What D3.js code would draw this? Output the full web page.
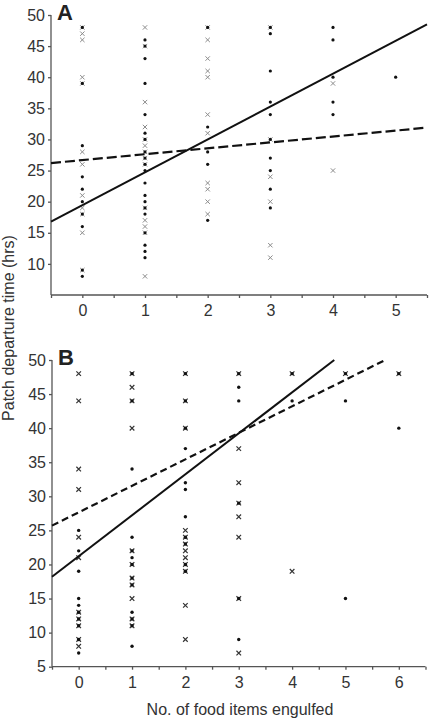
<!DOCTYPE html>
<html>
<head>
<meta charset="utf-8">
<script src="https://cdn.jsdelivr.net/npm/d3@7"></script>
<style>
body{margin:0;background:#fff;}
svg{display:block;font-family:"Liberation Sans",Arial,Helvetica,sans-serif;}
.axis path,.axis line{stroke:#555;stroke-width:1.3;}
.axis text{fill:#333;font-size:16px;font-family:"Liberation Sans",Arial,sans-serif;}
</style>
</head>
<body>
<div id="chart"></div>
<script>
// tick labels
var xTicksA=[0,1,2,3,4,5];
var xTicksB=[0,1,2,3,4,5,6];
var yTicksA=[10,15,20,25,30,35,40,45,50];
var yTicksB=[5,10,15,20,25,30,35,40,45,50];

// panel A : filled dots [food items, hours]
var dotsA=[
 [0,48],[0,39],[0,29],[0,24],[0,22],[0,20],[0,18],[0,16],[0,9],[0,8],
 [1,46],[1,45],[1,43],[1,39],[1,34],[1,31],[1,30],[1,28],[1,27],[1,26],[1,25],[1,23],[1,21],[1,20],[1,19],[1,18],[1,15],[1,13],[1,12],[1,11],
 [2,48],[2,32],[2,28],[2,26],[2,17],
 [3,48],[3,47],[3,41],[3,36],[3,34],[3,30],[3,27],[3,25],[3,22],[3,19],
 [4,48],[4,46],[4,40],[4,36],[4,34],
 [5,40]
];
// panel A : crosses
var crossA=[
 [0,48],[0,47],[0,46],[0,40],[0,39],[0,28],[0,26],[0,21],[0,19],[0,18],[0,15],[0,9],
 [1,48],[1,45],[1,36],[1,32],[1,30],[1,29],[1,28],[1,27],[1,26],[1,19],[1,17],[1,16],[1,15],[1,8],
 [2,48],[2,46],[2,43],[2,41],[2,40],[2,34],[2,31],[2,23],[2,22],[2,20],[2,18],
 [3,48],[3,30],[3,24],[3,20],[3,13],[3,11],
 [4,39],[4,25]
];
// panel B : filled dots
var dotsB=[
 [0,25],[0,22],[0,19],[0,15],[0,14],[0,13],[0,12],[0,11],[0,9],[0,7],
 [1,48],[1,44],[1,34],[1,24],[1,22],[1,21],[1,20],[1,18],[1,17],[1,13],[1,12],[1,11],[1,8],
 [2,48],[2,44],[2,40],[2,37],[2,32],[2,31],[2,27],[2,24],[2,23],[2,20],[2,19],
 [3,48],[3,46],[3,44],[3,29],[3,15],[3,9],
 [4,48],[4,44],
 [5,48],[5,44],[5,15],
 [6,48],[6,40]
];
// panel B : crosses
var crossB=[
 [0,48],[0,44],[0,34],[0,31],[0,24],[0,21],[0,13],[0,12],[0,11],[0,9],[0,8],
 [1,48],[1,46],[1,44],[1,40],[1,22],[1,20],[1,18],[1,17],[1,15],[1,12],[1,11],
 [2,48],[2,44],[2,40],[2,25],[2,24],[2,23],[2,22],[2,21],[2,20],[2,19],[2,14],[2,9],
 [3,48],[3,37],[3,32],[3,29],[3,27],[3,24],[3,15],[3,7],
 [4,48],[4,19],
 [5,48],
 [6,48]
];
// fitted lines (end points)
var solidA=[[-0.5,16.8],[5.5,48.5]];
var dashedA=[[-0.5,26.2],[5.5,31.9]];
var solidB=[[-0.5,18.2],[4.79,50]];
var dashedB=[[-0.5,25.7],[5.72,49.9]];

var W=432, H=718;
var svg=d3.select("#chart").append("svg")
	.attr("width",W)
	.attr("height",H);

function panel(o){
	var x=d3.scaleLinear().domain(o.xdom).range([o.left,o.right]);
	var y=d3.scaleLinear().domain([5,50]).range([o.bottom,o.top]);

	var halfTicks=d3.range(o.xdom[0],o.xdom[1]+0.01,0.5);
	var xAxis=d3.axisBottom(x)
		.tickValues(halfTicks)
		.tickSize(3)
		.tickPadding(7)
		.tickFormat(function(d){ return o.xticks.indexOf(d)>=0 ? d : ""; });
	var yAxis=d3.axisLeft(y)
		.tickValues(o.yticks)
		.tickSize(3)
		.tickPadding(3)
		.tickFormat(d3.format("d"));

	var gx=svg.append("g")
		.attr("class","axis")
		.attr("transform","translate(0,"+o.bottom+")")
		.call(xAxis);
	gx.select(".domain").attr("d","M"+o.left+",0H"+o.right);

	var gy=svg.append("g")
		.attr("class","axis")
		.attr("transform","translate("+o.left+",0)")
		.call(yAxis);
	gy.select(".domain").attr("d","M0,"+o.top+"V"+o.bottom);

	svg.append("text")
		.attr("x",o.left+6)
		.attr("y",o.top+5)
		.style("font-size","22px")
		.style("font-weight","bold")
		.style("fill","#222")
		.text(o.label);

	var c=o.cross;
	svg.append("g").selectAll("path")
		.data(o.crosses)
		.enter().append("path")
		.attr("transform",function(d){ return "translate("+x(d[0])+","+y(d[1])+")"; })
		.attr("d","M"+(-c)+","+(-c)+"L"+c+","+c+"M"+(-c)+","+c+"L"+c+","+(-c))
		.style("stroke",o.crossColor)
		.style("stroke-width",o.crossWidth)
		.style("fill","none");

	svg.append("g").selectAll("circle")
		.data(o.dots)
		.enter().append("circle")
		.attr("cx",function(d){ return x(d[0]); })
		.attr("cy",function(d){ return y(d[1]); })
		.attr("r",o.dotR)
		.style("fill","#111");

	var line=d3.line()
		.x(function(d){ return x(d[0]); })
		.y(function(d){ return y(d[1]); });

	svg.append("path")
		.attr("d",line(o.solid))
		.style("fill","none")
		.style("stroke","#111")
		.style("stroke-width",2);

	svg.append("path")
		.attr("d",line(o.dashed))
		.style("fill","none")
		.style("stroke","#111")
		.style("stroke-width",2.2)
		.style("stroke-dasharray",o.dash);
}

panel({label:"A",xdom:[-0.5,5.5],xticks:xTicksA,yticks:yTicksA,
	left:51,right:427,top:15,bottom:295,
	dots:dotsA,crosses:crossA,solid:solidA,dashed:dashedA,
	cross:2.2,crossColor:"#8c8c8c",crossWidth:1,dotR:1.6,dash:"10,4"});

panel({label:"B",xdom:[-0.5,6.5],xticks:xTicksB,yticks:yTicksB,
	left:52,right:425.5,top:360,bottom:666.7,
	dots:dotsB,crosses:crossB,solid:solidB,dashed:dashedB,
	cross:2.3,crossColor:"#333",crossWidth:1.2,dotR:1.7,dash:"7,4"});

// axis titles
svg.append("text")
	.attr("transform","translate(13.5,328) rotate(-90)")
	.attr("text-anchor","middle")
	.style("font-size","16px")
	.style("fill","#333")
	.text("Patch departure time (hrs)");

svg.append("text")
	.attr("x",240)
	.attr("y",715)
	.attr("text-anchor","middle")
	.style("font-size","16px")
	.style("fill","#333")
	.text("No. of food items engulfed");
</script>
</body>
</html>
